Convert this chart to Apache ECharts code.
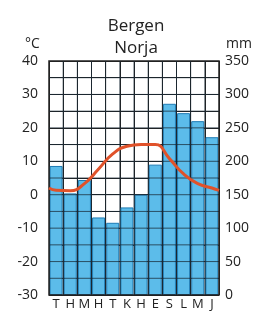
<!DOCTYPE html>
<html>
<head>
<meta charset="utf-8">
<script src="https://cdn.jsdelivr.net/npm/echarts@6/dist/echarts.min.js"></script>
<style>
  html, body { margin: 0; padding: 0; background: #fff; }
  #chart { width: 258px; height: 312px; }
</style>
</head>
<body>
<div id="chart"></div>
<script>
// Bergen, Norja - ilmastodiagrammi
const months = ['T', 'H', 'M', 'H', 'T', 'K', 'H', 'E', 'S', 'L', 'M', 'J'];
const precip = [193, 152, 172, 116, 108, 131, 150, 195, 286, 272, 260, 236];   // mm
// temperature: [month position, °C], incl. plot edges
const tempCurve = [[0, 2], [0.5, 1.3], [1.5, 1.2], [2.5, 3.3], [3.5, 7.7], [4.5, 12.2], [5.5, 14.5],
  [6.5, 15], [7.5, 15], [8.5, 10.8], [9.5, 6.2], [10.5, 3.3], [11.5, 2], [12, 1.3]];
const tempTicks = [-30, 40, 10];
const mmTicks = [0, 350, 50];

const font = '"Open Sans", "Liberation Sans", sans-serif';
const gridColor = '#222';

// grid drawn over the bars: a broken line through every 5 °C row and month boundary
const gridPath = [];
for (let t = tempTicks[0] + tempTicks[2] / 2; t < tempTicks[1]; t += tempTicks[2] / 2) {
  gridPath.push([0, t], [months.length, t], null);
}
for (let m = 1; m < months.length; m++) {
  gridPath.push([m, tempTicks[0]], [m, tempTicks[1]], null);
}

const chart = echarts.init(document.getElementById('chart'));

chart.setOption({
  animation: false,
  title: {
    text: 'Bergen\nNorja',
    left: 131, top: 10, textAlign: 'center',
    textStyle: { fontFamily: font, fontSize: 17, fontWeight: 'normal', color: '#222', lineHeight: 22 }
  },
  graphic: [
    { type: 'text', left: 25, top: 37, style: { text: '°C', font: '14px ' + font, fill: '#222' } },
    { type: 'text', left: 226, top: 37, style: { text: 'mm', font: '14px ' + font, fill: '#222' } }
  ],
  grid: { left: 49, right: 39, top: 61, bottom: 17, show: true, borderColor: '#222', borderWidth: 1.5, zlevel: 1 },
  xAxis: [
    {
      type: 'category', data: months,
      axisLine: { show: false }, axisTick: { show: false },
      axisLabel: { interval: 0, margin: 3, fontFamily: font, fontSize: 13, color: '#222' },
      splitLine: { show: true, interval: 0, lineStyle: { color: gridColor, width: 1 } }
    },
    { type: 'value', min: 0, max: months.length, show: false }
  ],
  yAxis: [
    {
      type: 'value', min: tempTicks[0], max: tempTicks[1], interval: tempTicks[2],
      axisLine: { show: false }, axisTick: { show: false },
      axisLabel: { margin: 11, fontFamily: font, fontSize: 14, color: '#222' },
      splitLine: { show: true, lineStyle: { color: gridColor, width: 1 } },
      minorTick: { show: false, splitNumber: 2 },
      minorSplitLine: { show: true, lineStyle: { color: gridColor, width: 1 } }
    },
    {
      type: 'value', min: mmTicks[0], max: mmTicks[1], interval: mmTicks[2],
      axisLine: { show: false }, axisTick: { show: false },
      axisLabel: { margin: 6, fontFamily: font, fontSize: 14, color: '#222' },
      splitLine: { show: false }
    }
  ],
  series: [
    {
      type: 'bar', data: precip, xAxisIndex: 0, yAxisIndex: 1,
      barWidth: '92%',
      itemStyle: { color: '#5cbcea', borderColor: '#1d7bb4', borderWidth: 1 }
    },
    {
      type: 'line', data: gridPath, xAxisIndex: 1, yAxisIndex: 0,
      symbol: 'none', silent: true, connectNulls: false, zlevel: 2, z: 1,
      lineStyle: { color: '#1a2a36', width: 1, opacity: 0.75 }
    },
    {
      type: 'line', data: tempCurve, xAxisIndex: 1, yAxisIndex: 0,
      smooth: 0.5, symbol: 'none', zlevel: 2, z: 5,
      lineStyle: { color: '#e0522a', width: 3 }
    }
  ]
});
</script>
</body>
</html>
